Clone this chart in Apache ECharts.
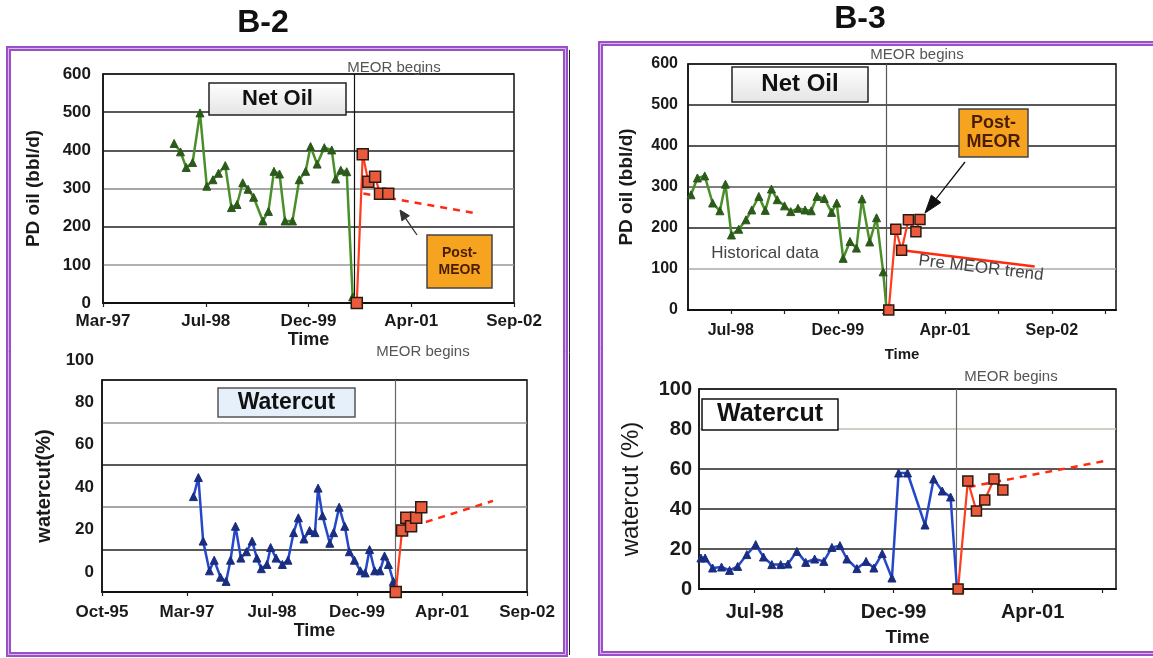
<!DOCTYPE html>
<html><head><meta charset="utf-8">
<script src="https://cdn.jsdelivr.net/npm/echarts@6/dist/echarts.min.js"></script>
<style>html,body{margin:0;padding:0;background:#fff}#c{width:1153px;height:658px}</style>
</head><body><div id="c"></div>
<script>
// x values are Excel date serials (days)
const MEOR = 36725;

// ---- B-2 Net Oil ----
const b2OilDates  = [35846,35877,35905,35936,35972,36005,36035,36062,36095,36125,36152,36180,36206,36233,36278,36305,36332,36359,36386,36422,36455,36486,36510,36542,36577,36613,36632,36657,36686,36715];
const b2OilValues = [418,396,355,368,498,306,323,340,360,250,258,315,298,277,215,240,345,338,215,215,323,345,410,364,407,401,325,348,344,16];
const b2OilPostDates  = [36735,36764,36791,36824,36848,36888];
const b2OilPostValues = [0,390,318,331,286,286];
const b2OilTrendDates  = [36767,37305];
const b2OilTrendValues = [287,236];
const b2OilTicks = [35500,36000,36500,37000,37500];
const b2OilTickLabels = ['Mar-97','Jul-98','Dec-99','Apr-01','Sep-02'];

// ---- B-2 Watercut ----
const b2WcDates  = [35538,35567,35595,35632,35660,35697,35730,35756,35785,35817,35850,35883,35911,35937,35970,35992,36024,36061,36094,36127,36155,36188,36221,36253,36271,36297,36340,36362,36395,36428,36455,36485,36520,36548,36574,36604,36635,36662,36685,36714];
const b2WcValues = [45,54,24,10,15,7,5,15,31,16,19,24,16,11,13,21,16,13,15,28,35,25,29,28,49,36,23,28,40,31,19,15,10,9,20,10,10,17,13,5];
const b2WcPostDates  = [36728,36765,36790,36818,36848,36878];
const b2WcPostValues = [0,29,35,31,35,40];
const b2WcTrendDates  = [36905,37300];
const b2WcTrendValues = [33,43];
const b2WcTicks = [35000,35500,36000,36500,37000,37500];
const b2WcTickLabels = ['Oct-95','Mar-97','Jul-98','Dec-99','Apr-01','Sep-02'];

// ---- B-3 Net Oil ----
const b3OilDates  = [35814,35844,35878,35915,35949,35975,36003,36037,36071,36098,36131,36161,36190,36217,36251,36280,36314,36347,36376,36403,36437,36471,36495,36525,36557,36587,36613,36649,36681,36712,36728];
const b3OilValues = [281,322,327,261,242,307,183,197,220,244,277,243,295,269,254,240,248,244,242,277,272,238,261,126,167,151,271,166,225,93,0];
const b3OilPostDates  = [36738,36771,36798,36830,36865,36884];
const b3OilPostValues = [0,197,146,220,191,221];
const b3OilTrendDates  = [36800,37420];
const b3OilTrendValues = [146,106];
const b3OilTicks = [36000,36500,37000,37500];
const b3OilTickLabels = ['Jul-98','Dec-99','Apr-01','Sep-02'];
const b3OilMinorTicks = [36000,36250,36500,36750,37000,37250,37500,37750];

// ---- B-3 Watercut ----
const b3WcDates  = [35807,35822,35849,35881,35910,35939,35972,36004,36032,36062,36094,36120,36152,36184,36216,36249,36278,36307,36332,36368,36401,36429,36459,36494,36518,36550,36613,36644,36675,36705,36728];
const b3WcValues = [15.5,15.5,10.5,11,9.3,11.3,17.2,22.2,16,12.2,12.2,12.5,18.8,13.3,15,13.8,20.8,21.7,15,10.2,13.8,10.5,17.7,5.5,58,58,32,55,49,46,0];
const b3WcPostDates  = [36732,36767,36798,36828,36861,36893];
const b3WcPostValues = [0,54,39,44.5,55,49.5];
const b3WcTrendDates  = [36770,37260];
const b3WcTrendValues = [51,64];
const b3WcTicks = [36000,36500,37000];
const b3WcTickLabels = ['Jul-98','Dec-99','Apr-01'];
const b3WcMinorTicks = [36000,36250,36500,36750,37000,37250];

const FONT = "'Liberation Sans', Arial, sans-serif";
const zip = (xs, ys) => xs.map((x, i) => [x, ys[i]]);

function xAxis(gi, min, max, ticks, labels, minor, fs, margin, gap, nfs) {
  return {
    gridIndex: gi, type: 'value', min: min, max: max,
    axisLine: {show: true, onZero: false, lineStyle: {color: '#111', width: 2}},
    axisTick: {show: true, length: 4, customValues: minor || ticks, lineStyle: {color: '#222', width: 1.2}},
    axisLabel: {customValues: ticks, formatter: v => labels[ticks.indexOf(v)] || '',
      fontSize: fs, fontWeight: 'bold', color: '#1a1a1a', margin: margin, fontFamily: FONT},
    splitLine: {show: false},
    name: 'Time', nameLocation: 'middle', nameGap: gap,
    nameTextStyle: {fontSize: nfs, fontWeight: 'bold', color: '#1a1a1a', fontFamily: FONT}
  };
}
function yAxis(gi, max, interval, colors, name, fs, margin, gap, nfs, nweight, extraLabel) {
  return {
    gridIndex: gi, type: 'value', min: 0, max: max, interval: interval,
    axisLine: {show: true, lineStyle: {color: '#111', width: 1.5}},
    axisTick: {show: false},
    axisLabel: Object.assign({fontSize: fs, fontWeight: 'bold', color: '#1a1a1a', margin: margin, fontFamily: FONT}, extraLabel || {}),
    splitLine: {show: true, lineStyle: {color: colors, width: 1.5}},
    name: name, nameLocation: 'middle', nameGap: gap, nameRotate: 90,
    nameTextStyle: {fontSize: nfs, fontWeight: nweight, color: '#1a1a1a', fontFamily: FONT}
  };
}
function hist(gi, data, color, mcolor, meorColor) {
  return {
    type: 'line', xAxisIndex: gi, yAxisIndex: gi, data: data, symbol: 'triangle', symbolSize: 8,
    lineStyle: {color: color, width: 2.5}, itemStyle: {color: mcolor, borderColor: mcolor},
    z: 3, silent: true, animation: false,
    markLine: {symbol: 'none', silent: true, label: {show: false},
      lineStyle: {color: meorColor, width: 1.2, type: 'solid'}, data: [{xAxis: MEOR}], z: 1}
  };
}
function post(gi, data, size) {
  return {
    type: 'line', xAxisIndex: gi, yAxisIndex: gi, data: data, symbol: 'rect', symbolSize: size || 10,
    lineStyle: {color: '#ff3c1c', width: 2.2}, itemStyle: {color: '#ea5a3c', borderColor: '#2a1a12', borderWidth: 1.5},
    z: 5, silent: true, animation: false
  };
}
function trend(gi, data, dashed) {
  return {
    type: 'line', xAxisIndex: gi, yAxisIndex: gi, data: data, symbol: 'none',
    lineStyle: {color: '#ff2a10', width: 2.5, type: dashed ? [7, 6] : 'solid'},
    z: 4, silent: true, animation: false
  };
}
function arrow(x1, y1, x2, y2, len, hw, color, lw) {
  const dx = x2 - x1, dy = y2 - y1, L = Math.hypot(dx, dy), ux = dx / L, uy = dy / L;
  const bx = x2 - len * ux, by = y2 - len * uy, px = -uy, py = ux;
  return [
    {type: 'line', shape: {x1: x1, y1: y1, x2: bx, y2: by}, style: {stroke: color, lineWidth: lw}, z: 20},
    {type: 'polygon', shape: {points: [[x2, y2], [bx + hw * px, by + hw * py], [bx - hw * px, by - hw * py]]},
      style: {fill: color, stroke: color}, z: 20}
  ];
}
function box(x, y, w, h, fill, stroke, text, fs, tcolor, lh) {
  return [
    {type: 'rect', shape: {x: x, y: y, width: w, height: h}, style: {fill: fill, stroke: stroke, lineWidth: 1.5}, z: 20},
    {type: 'text', x: x + w / 2, y: y + h / 2, z: 21,
      style: {text: text, font: 'bold ' + fs + 'px ' + FONT, fill: tcolor, align: 'center', verticalAlign: 'middle', lineHeight: lh || fs}}
  ];
}
function txt(x, y, t, fs, color, rot, weight) {
  return {type: 'text', x: x, y: y, rotation: rot || 0, z: 21,
    style: {text: t, font: (weight || 'normal') + ' ' + fs + 'px ' + FONT, fill: color, align: 'center', verticalAlign: 'middle'}};
}
const greyGrad = {type: 'linear', x: 0, y: 0, x2: 0, y2: 1, colorStops: [{offset: 0, color: '#ffffff'}, {offset: 1, color: '#e4e4e4'}]};

const graphics = [].concat(
  [
    {type: 'rect', shape: {x: 8.5, y: 48.5, width: 557, height: 606}, style: {fill: 'none', stroke: '#9a50c6', lineWidth: 5}, z: 0},
    {type: 'rect', shape: {x: 8.5, y: 48.5, width: 557, height: 606}, style: {fill: 'none', stroke: '#d8b8ec', lineWidth: 1}, z: 0},
    {type: 'line', shape: {x1: 569.5, y1: 50, x2: 569.5, y2: 655}, style: {stroke: '#222', lineWidth: 1}, z: 0},
    {type: 'rect', shape: {x: 600.5, y: 43.5, width: 620, height: 610}, style: {fill: 'none', stroke: '#9a50c6', lineWidth: 5}, z: 0},
    {type: 'rect', shape: {x: 600.5, y: 43.5, width: 620, height: 610}, style: {fill: 'none', stroke: '#d8b8ec', lineWidth: 1}, z: 0},
    txt(263, 23, 'B-2', 32, '#111', 0, 'bold'),
    txt(860, 19, 'B-3', 32, '#111', 0, 'bold'),
    txt(394, 68, 'MEOR begins', 15, '#555'),
    txt(423, 352, 'MEOR begins', 15, '#555'),
    txt(917, 55, 'MEOR begins', 15, '#555'),
    txt(1011, 377, 'MEOR begins', 15, '#555'),
    txt(765, 253, 'Historical data', 17, '#444'),
    txt(981, 268, 'Pre MEOR trend', 17, '#444', -0.12)
  ],
  box(209, 83, 137, 32, greyGrad, '#222', 'Net Oil', 22, '#111'),
  box(732, 67, 136, 35, greyGrad, '#222', 'Net Oil', 24, '#111'),
  box(218, 388, 137, 29, '#e6f0fb', '#555', 'Watercut', 23, '#111'),
  box(702, 399, 136, 31, '#ffffff', '#111', 'Watercut', 25, '#111'),
  box(427, 235, 65, 53, '#f6a31f', '#444', 'Post-\nMEOR', 14, '#4a1d00', 17),
  box(959, 109, 69, 48, '#f6a31f', '#444', 'Post-\nMEOR', 18, '#4a1d00', 19),
  arrow(417, 235, 400, 210, 10, 4.5, '#333', 1.3),
  arrow(965, 162, 925, 213, 18, 6, '#111', 1.3)
);

const option = {
  backgroundColor: '#ffffff',
  animation: false,
  grid: [
    {left: 103, top: 74, width: 411, height: 229, show: true, borderColor: '#111', borderWidth: 1.5},
    {left: 102, top: 380, width: 425, height: 212, show: true, borderColor: '#111', borderWidth: 1.5},
    {left: 688, top: 64, width: 428, height: 246, show: true, borderColor: '#111', borderWidth: 1.5},
    {left: 699, top: 389, width: 417, height: 200, show: true, borderColor: '#111', borderWidth: 1.5}
  ],
  xAxis: [
    xAxis(0, 35500, 37500, b2OilTicks, b2OilTickLabels, null, 17, 10, 26, 18),
    xAxis(1, 35000, 37500, b2WcTicks, b2WcTickLabels, null, 17, 12, 27, 18),
    xAxis(2, 35800, 37800, b3OilTicks, b3OilTickLabels, b3OilMinorTicks, 16, 13, 37, 15),
    xAxis(3, 35800, 37300, b3WcTicks, b3WcTickLabels, b3WcMinorTicks, 20, 13, 39, 19)
  ],
  yAxis: [
    yAxis(0, 600, 100, ['#222', '#999', '#222', '#888', '#222', '#222', '#222'], 'PD oil (bbl/d)', 17, 12, 60, 19, 'bold'),
    yAxis(1, 100, 20, ['#222', '#222', '#888', '#222', '#999', '#222'], 'watercut(%)', 17, 8, 48, 20, 'bold', {verticalAlign: 'bottom', lineHeight: 40}),
    yAxis(2, 600, 100, ['#222', '#aaa', '#222', '#555', '#222', '#222', '#222'], 'PD oil (bbl/d)', 16, 10, 52, 19, 'bold'),
    yAxis(3, 100, 20, ['#222', '#222', '#222', '#222', '#b8c2b2', '#222'], 'watercut (%)', 20, 7, 56, 24, 'normal')
  ],
  series: [
    hist(0, zip(b2OilDates, b2OilValues), '#4a8f2a', '#2c5a1b', '#111'),
    post(0, zip(b2OilPostDates, b2OilPostValues), 11),
    trend(0, zip(b2OilTrendDates, b2OilTrendValues), true),
    hist(1, zip(b2WcDates, b2WcValues), '#2548c8', '#1a2d80', '#666'),
    post(1, zip(b2WcPostDates, b2WcPostValues), 11),
    trend(1, zip(b2WcTrendDates, b2WcTrendValues), true),
    hist(2, zip(b3OilDates, b3OilValues), '#4a8f2a', '#2c5a1b', '#555'),
    post(2, zip(b3OilPostDates, b3OilPostValues), 10),
    trend(2, zip(b3OilTrendDates, b3OilTrendValues), false),
    hist(3, zip(b3WcDates, b3WcValues), '#2548c8', '#1a2d80', '#666'),
    post(3, zip(b3WcPostDates, b3WcPostValues), 10),
    trend(3, zip(b3WcTrendDates, b3WcTrendValues), true)
  ],
  graphic: graphics
};
const chart = echarts.init(document.getElementById('c'), null, {renderer: 'canvas'});
chart.setOption(option);
</script></body></html>
